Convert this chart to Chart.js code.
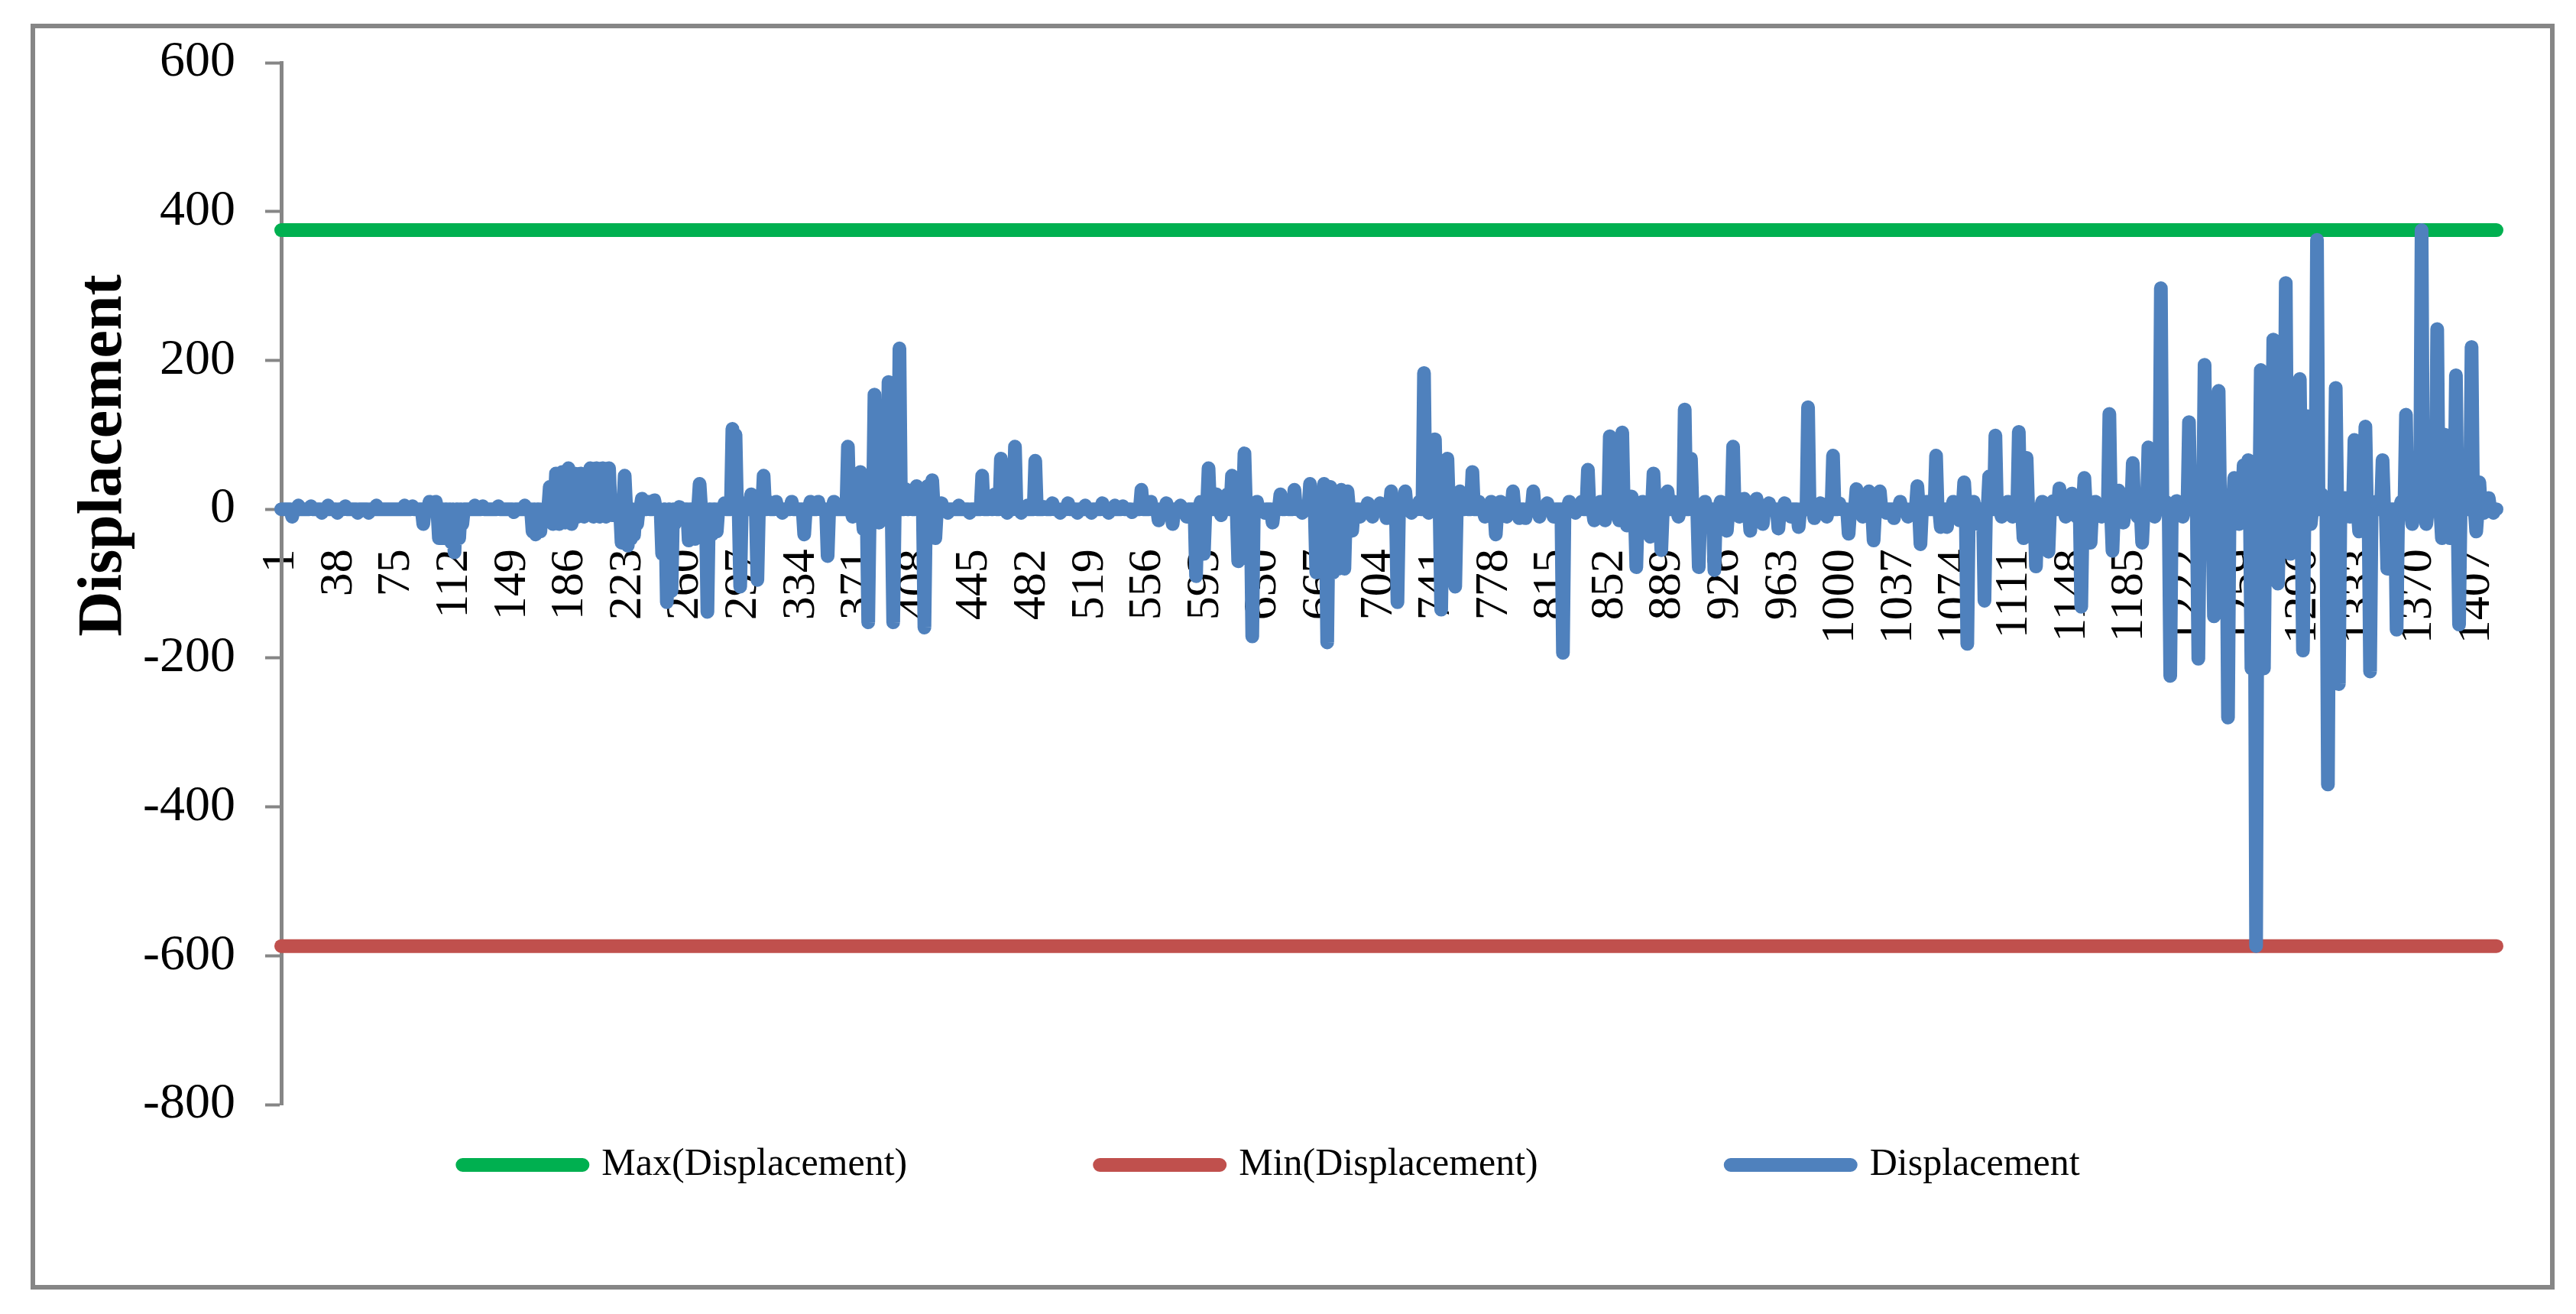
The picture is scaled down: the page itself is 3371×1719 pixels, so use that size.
<!DOCTYPE html>
<html>
<head>
<meta charset="utf-8">
<script src="https://cdn.jsdelivr.net/npm/chart.js@4.4.1/dist/chart.umd.min.js"></script>
<style>
  html, body { margin: 0; padding: 0; background: #fff; }
  canvas { display: block; }
</style>
</head>
<body>
<canvas id="dChart" width="3371" height="1719"></canvas>
<script>
const pointCount = 1420;
const xTickLabels = [1, 38, 75, 112, 149, 186, 223, 260, 297, 334, 371, 408, 445, 482, 519,
  556, 593, 630, 667, 704, 741, 778, 815, 852, 889, 926, 963, 1000, 1037, 1074, 1111, 1148,
  1185, 1222, 1259, 1296, 1333, 1370, 1407];
const maxDisplacement = 375;
const minDisplacement = -587;

// readings that leave the flat zero trace: [sample number, displacement]
const peaks = [
  [8,-10],[12,5],[20,4],[27,-5],[31,5],[37,-5],[42,4],[50,-5],[57,-5],[62,5],[80,5],[85,4],
  [92,-20],[96,10],[100,10],[102,-39],[105,-39],[108,-39],[110,-45],[112,-58],[115,-39],[117,-20],
  [125,5],[130,4],[140,4],[150,-4],[157,5],[162,-30],[164,-34],[167,-30],
  [173,30],[175,-20],[177,48],[179,-20],[181,50],[183,-18],[185,55],[187,-20],[189,48],[191,-10],
  [193,48],[195,-10],[197,48],[199,55],[201,-10],[203,55],[205,-10],[207,55],[209,-10],[211,55],
  [213,-8],[216,7],[219,-45],[221,45],[223,-49],[225,-40],[227,-35],[229,-20],[232,14],[236,10],
  [240,12],[245,-60],[248,-125],[251,-110],[253,-20],[256,3],[262,-42],[266,-40],[269,34],
  [274,-138],[277,-34],[280,-30],[285,8],[290,108],[292,100],[295,-104],[298,8],[302,20],[306,-95],
  [310,45],[313,10],[318,10],[322,-5],[328,10],[336,-34],[340,10],[345,10],[351,-63],[355,10],
  [360,5],[364,84],[367,-10],[372,50],[374,-27],[377,-152],[381,154],[384,-18],[388,30],[390,171],
  [393,-152],[397,216],[401,27],[404,20],[408,31],[413,-159],[415,31],[418,39],[420,-39],[424,8],
  [428,-5],[435,5],[442,-5],[450,45],[455,8],[458,20],[462,68],[466,-5],[471,84],[475,-5],[479,5],
  [484,65],[490,3],[495,8],[500,-5],[505,8],[511,-5],[516,5],[520,-5],[527,8],[531,-5],[535,5],
  [540,4],[546,-4],[552,26],[558,10],[563,-15],[568,8],[572,-20],[577,5],[581,-10],[587,-90],
  [590,10],[592,-60],[595,55],[600,20],[603,-8],[607,20],[610,45],[614,-70],[618,75],[623,-171],
  [626,10],[631,-5],[636,-18],[641,20],[645,10],[650,26],[655,-5],[660,34],[664,-85],[667,-85],
  [669,34],[671,-179],[673,30],[675,-85],[678,-80],[680,26],[682,-80],[684,24],[687,-29],[692,-10],
  [697,8],[700,-10],[705,8],[709,-12],[712,24],[716,-125],[718,10],[721,24],[725,-5],[730,10],
  [733,183],[736,-5],[740,94],[744,-135],[748,68],[753,-104],[756,24],[760,10],[764,50],[768,10],
  [772,-10],[776,10],[779,-34],[782,10],[786,-10],[790,24],[794,-12],[798,-12],[803,24],[807,-10],
  [812,8],[816,-10],[822,-193],[826,10],[830,-5],[834,10],[838,53],[842,-15],[846,10],[849,-15],
  [852,98],[855,10],[858,-15],[860,103],[863,-22],[866,17],[869,-78],[873,10],[878,-37],[880,48],
  [885,-55],[889,24],[893,10],[896,-10],[900,134],[904,68],[909,-78],[913,10],[919,-82],[923,10],
  [927,-29],[931,84],[935,-10],[938,14],[942,-29],[946,14],[950,-20],[954,8],[960,-26],[964,8],
  [968,-10],[973,-24],[979,137],[983,-12],[987,8],[991,-10],[995,72],[999,8],[1005,-33],[1010,27],
  [1014,-10],[1018,24],[1021,-42],[1025,24],[1029,-5],[1034,-12],[1038,10],[1043,-10],[1049,31],
  [1051,-47],[1055,10],[1061,72],[1064,-24],[1068,-24],[1072,10],[1076,-15],[1079,36],[1081,-181],
  [1085,10],[1088,-20],[1092,-123],[1095,44],[1099,99],[1103,-10],[1107,10],[1110,-10],[1114,104],
  [1117,-39],[1119,69],[1122,-30],[1125,-77],[1129,10],[1133,-57],[1136,11],[1140,28],[1144,-10],
  [1148,21],[1151,-10],[1154,-131],[1156,42],[1160,-45],[1163,10],[1167,-10],[1172,128],[1174,-56],
  [1178,25],[1181,-18],[1187,62],[1190,-10],[1193,-45],[1197,83],[1201,-10],[1205,297],[1208,10],
  [1211,-224],[1215,11],[1219,-10],[1223,117],[1226,10],[1229,-201],[1233,194],[1236,30],[1239,-144],
  [1242,159],[1245,20],[1248,-280],[1252,42],[1255,-20],[1258,59],[1261,66],[1263,-214],[1266,-587],
  [1269,187],[1271,-214],[1274,40],[1277,228],[1280,-100],[1282,30],[1285,304],[1288,-60],[1291,40],
  [1294,175],[1296,-190],[1299,125],[1301,-20],[1305,362],[1308,20],[1312,-370],[1315,-40],[1317,163],
  [1319,-235],[1323,15],[1326,-10],[1329,93],[1332,-30],[1336,111],[1339,-218],[1343,10],[1347,66],
  [1350,-80],[1356,-162],[1359,10],[1362,127],[1366,-20],[1372,375],[1375,-20],[1382,242],[1385,-39],
  [1387,100],[1390,-39],[1394,180],[1396,-155],[1400,20],[1404,218],[1407,-30],[1409,36],[1412,-5],
  [1415,15],[1418,-5]
];

const categories = Array.from({ length: pointCount }, (_, i) => String(i + 1));
const displacement = new Array(pointCount).fill(0);
peaks.forEach(([n, v]) => { displacement[n - 1] = v; });

const axisGray = '#868686';
const serif = '"Liberation Serif", "Times New Roman", serif';
Chart.defaults.font.family = serif;
Chart.defaults.color = '#000';

/* ───────── frame + rotated y title ───────── */

const framePlugin = {
  id: 'frame',
  afterDraw(chart) {
    const ctx = chart.ctx;
    ctx.save();
    ctx.strokeStyle = axisGray;
    ctx.lineWidth = 6;
    ctx.strokeRect(43, 34, 3297, 1650);

    ctx.fillStyle = '#000';
    ctx.font = 'bold 82px ' + serif;
    ctx.textAlign = 'center';
    ctx.textBaseline = 'middle';
    ctx.translate(137, 596);
    ctx.rotate(-Math.PI / 2);
    ctx.fillText('Displacement', 0, 0);
    ctx.restore();
  }
};

// legend row sits a fixed gap below the plot, whatever its item padding
const legendRow = {
  id: 'legendRow',
  afterLayout(chart) {
    const lg = chart.legend;
    lg.top = chart.chartArea.bottom + 54 - lg.options.labels.padding;
  }
};

const lineStyle = { borderWidth: 18, pointRadius: 0, borderCapStyle: 'round', borderJoinStyle: 'round', tension: 0 };

new Chart(document.getElementById('dChart'), {
  type: 'line',
  data: {
    labels: categories,
    datasets: [
      { label: 'Max(Displacement)', data: new Array(pointCount).fill(maxDisplacement),
        borderColor: '#00B050', backgroundColor: '#00B050', order: 2, ...lineStyle },
      { label: 'Min(Displacement)', data: new Array(pointCount).fill(minDisplacement),
        borderColor: '#C0504D', backgroundColor: '#C0504D', order: 1, ...lineStyle },
      { label: 'Displacement', data: displacement,
        borderColor: '#4F81BD', backgroundColor: '#4F81BD', order: 0, ...lineStyle }
    ]
  },
  options: {
    responsive: false,
    animation: false,
    devicePixelRatio: 1,
    layout: { padding: { left: 60, top: 82, right: 104, bottom: 154 } },
    plugins: {
      tooltip: { enabled: false },
      legend: {
        position: 'bottom',
        maxHeight: 120,
        labels: {
          boxWidth: 157,
          boxHeight: 0,
          padding: 252,
          font: { size: 50 },
          color: '#000',
          sort: (a, b) => a.datasetIndex - b.datasetIndex
        }
      }
    },
    scales: {
      x: {
        position: { y: 0 },
        offset: false,
        grid: { display: false },
        border: { display: true, color: axisGray, width: 5 },
        ticks: {
          autoSkip: false,
          minRotation: 90,
          maxRotation: 90,
          padding: 44,
          font: { size: 62 },
          color: '#000',
          callback: function (value) {
            const lab = this.getLabelForValue(value);
            return xTickLabels.includes(Number(lab)) ? lab : null;
          }
        }
      },
      y: {
        min: -800,
        max: 600,
        afterFit(scale) { scale.width = 308; },
        grid: { drawOnChartArea: false, tickLength: 21, tickColor: axisGray, tickWidth: 4 },
        border: { color: axisGray, width: 5 },
        ticks: { stepSize: 200, padding: 39, font: { size: 66 }, color: '#000' }
      }
    }
  },
  plugins: [framePlugin, legendRow]
});
</script>
</body>
</html>
